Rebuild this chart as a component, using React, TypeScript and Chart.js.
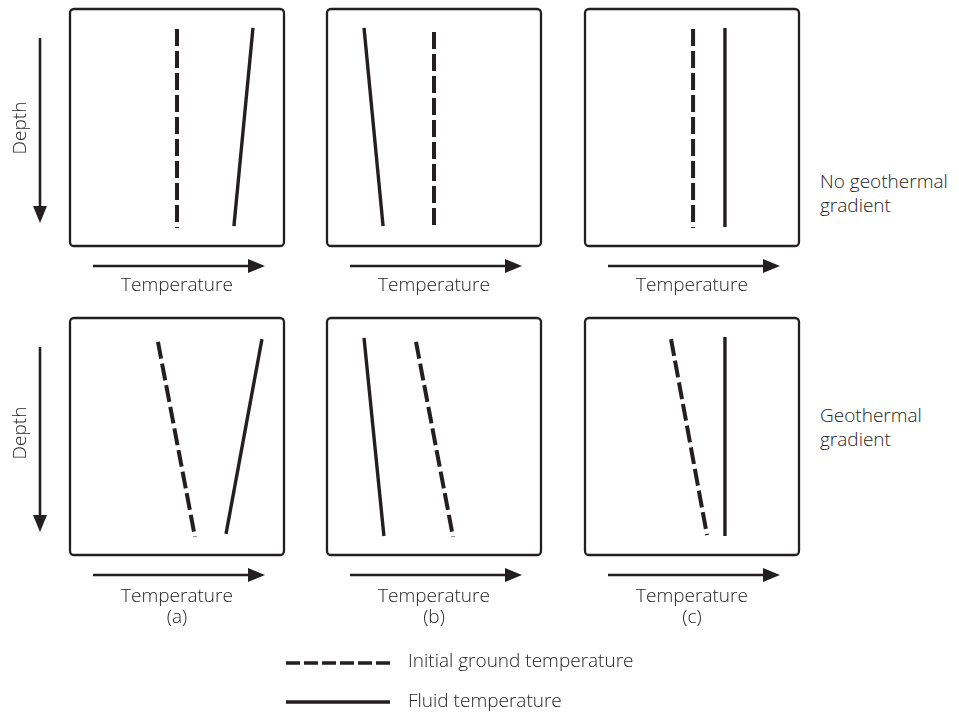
import React, { useEffect, useRef } from 'react';
import { Chart, registerables } from 'chart.js';

Chart.register(...registerables);

// ---------- data ----------
const columnLabels = ['(a)', '(b)', '(c)'];
const rowLabels = [
  ['No geothermal', 'gradient'],
  ['Geothermal', 'gradient'],
];
const xAxisLabel = 'Temperature';
const yAxisLabel = 'Depth';
const legendLabels = ['Initial ground temperature', 'Fluid temperature'];

// panel order: top row (a, b, c), bottom row (a, b, c)
// temperature as % of panel width, depth as % of panel height
const groundTempTop = [50.0, 50.0, 50.5, 41.1, 41.6, 40.2];
const groundTempBottom = [50.0, 50.0, 50.5, 58.4, 58.9, 57.0];
const groundDepthTop = [8.4, 9.7, 8.4, 10.1, 10.1, 8.9];
const groundDepthBottom = [92.4, 93.2, 92.4, 92.4, 92.4, 91.6];
const fluidTempTop = [85.5, 17.3, 65.4, 89.7, 17.3, 65.4];
const fluidTempBottom = [76.6, 26.2, 65.4, 72.9, 26.6, 65.4];
const fluidDepthTop = [8.0, 8.0, 8.0, 8.9, 8.4, 8.0];
const fluidDepthBottom = [91.6, 91.6, 92.0, 91.1, 92.0, 92.0];

// ---------- layout / style ----------
const INK = '#231f20';
const TEXT = '#262324';
const FONT = "'Open Sans', 'Noto Sans', sans-serif";
const COL_LEFT = [70, 327, 585];
const ROW_TOP = [9, 318];
const BOX_W = 214;
const BOX_H = 237;
const PAD = { left: 70, top: 9, right: 10, bottom: 40 };
const GROUND_DASH = [17, 5];
const LEGEND_DASH = [14, 4];

function drawArrow(ctx: CanvasRenderingContext2D, x1: number, y1: number, x2: number, y2: number) {
  const head = 17;
  const half = 7;
  const len = Math.hypot(x2 - x1, y2 - y1);
  const ux = (x2 - x1) / len;
  const uy = (y2 - y1) / len;
  const bx = x2 - ux * head;
  const by = y2 - uy * head;
  ctx.save();
  ctx.strokeStyle = INK;
  ctx.fillStyle = INK;
  ctx.lineWidth = 2.6;
  ctx.lineCap = 'butt';
  ctx.beginPath();
  ctx.moveTo(x1, y1);
  ctx.lineTo(bx + ux * 2, by + uy * 2);
  ctx.stroke();
  ctx.beginPath();
  ctx.moveTo(x2, y2);
  ctx.lineTo(bx - uy * half, by + ux * half);
  ctx.lineTo(bx + uy * half, by - ux * half);
  ctx.closePath();
  ctx.fill();
  ctx.restore();
}

const panelDecor = {
  id: 'panelDecor',
  afterDraw(chart: any, _args: any, opts: any) {
    const { ctx, chartArea: a } = chart;
    ctx.save();
    ctx.strokeStyle = INK;
    ctx.lineWidth = 2.3;
    ctx.beginPath();
    if ((ctx as any).roundRect) {
      (ctx as any).roundRect(a.left, a.top, a.right - a.left, a.bottom - a.top, 4);
    } else {
      ctx.rect(a.left, a.top, a.right - a.left, a.bottom - a.top);
    }
    ctx.stroke();
    ctx.restore();
    const ay = a.bottom + 20;
    drawArrow(ctx, a.left + 23, ay, a.left + 195, ay);
    if (opts && opts.depthArrow) {
      const ax = a.left - 30;
      drawArrow(ctx, ax, a.top + 29, ax, a.top + 214);
    }
  },
};

function Panel({ index }: { index: number }) {
  const ref = useRef<HTMLCanvasElement | null>(null);
  const row = Math.floor(index / 3);
  const col = index % 3;
  const width = BOX_W + PAD.left + PAD.right;
  const height = BOX_H + PAD.top + PAD.bottom;
  useEffect(() => {
    if (!ref.current) return;
    const chart = new Chart(ref.current, {
      type: 'line',
      data: {
        datasets: [
          {
            label: legendLabels[0],
            data: [
              { x: groundTempTop[index], y: groundDepthTop[index] },
              { x: groundTempBottom[index], y: groundDepthBottom[index] },
            ],
            borderColor: INK,
            borderWidth: 4,
            borderDash: GROUND_DASH,
            borderCapStyle: 'butt',
            pointRadius: 0,
            fill: false,
            tension: 0,
          },
          {
            label: legendLabels[1],
            data: [
              { x: fluidTempTop[index], y: fluidDepthTop[index] },
              { x: fluidTempBottom[index], y: fluidDepthBottom[index] },
            ],
            borderColor: INK,
            borderWidth: 3.4,
            borderCapStyle: 'butt',
            pointRadius: 0,
            fill: false,
            tension: 0,
          },
        ],
      },
      options: {
        responsive: false,
        animation: false,
        events: [],
        layout: { padding: PAD },
        plugins: {
          legend: { display: false },
          tooltip: { enabled: false },
          panelDecor: { depthArrow: col === 0 },
        } as any,
        scales: {
          x: { type: 'linear', min: 0, max: 100, display: false },
          y: { type: 'linear', min: 0, max: 100, reverse: true, display: false },
        },
      },
      plugins: [panelDecor],
    } as any);
    return () => chart.destroy();
  }, [index]);
  return (
    <canvas
      ref={ref}
      width={width}
      height={height}
      style={{
        position: 'absolute',
        left: COL_LEFT[col] - PAD.left,
        top: ROW_TOP[row] - PAD.top,
        width,
        height,
      }}
    />
  );
}

export default function App() {
  const tempTops = [274, 585];
  const depthCenters = [128, 433];
  const rowLabelTops = [169, 403];
  return (
    <div
      style={{
        position: 'absolute',
        left: 0,
        top: 0,
        width: 959,
        height: 713,
        background: '#fff',
        fontFamily: FONT,
        fontSize: 19,
        fontWeight: 300,
        color: TEXT,
        overflow: 'hidden',
      }}
    >
      {[0, 1, 2, 3, 4, 5].map((i) => (
        <Panel key={i} index={i} />
      ))}

      {[0, 1].map((r) =>
        [0, 1, 2].map((c) => (
          <div
            key={`t${r}${c}`}
            style={{
              position: 'absolute',
              left: COL_LEFT[c],
              width: BOX_W,
              top: tempTops[r],
              textAlign: 'center',
              lineHeight: '21px',
            }}
          >
            <div>{xAxisLabel}</div>
            {r === 1 && <div>{columnLabels[c]}</div>}
          </div>
        ))
      )}

      {depthCenters.map((cy, r) => (
        <div
          key={`d${r}`}
          style={{
            position: 'absolute',
            left: 19 - 40,
            top: cy - 12,
            width: 80,
            height: 24,
            lineHeight: '24px',
            textAlign: 'center',
            transform: 'rotate(-90deg)',
          }}
        >
          {yAxisLabel}
        </div>
      ))}

      {rowLabels.map((lines, r) => (
        <div
          key={`r${r}`}
          style={{
            position: 'absolute',
            left: 820,
            top: rowLabelTops[r],
            lineHeight: '24px',
            whiteSpace: 'nowrap',
          }}
        >
          {lines.map((l, k) => (
            <div key={k}>{l}</div>
          ))}
        </div>
      ))}

      <svg
        width={959}
        height={713}
        style={{ position: 'absolute', left: 0, top: 0, pointerEvents: 'none' }}
      >
        <line x1={286} x2={390} y1={663} y2={663} stroke={INK} strokeWidth={3.4} strokeDasharray={LEGEND_DASH.join(' ')} />
        <line x1={286} x2={390} y1={702} y2={702} stroke={INK} strokeWidth={3.4} />
      </svg>
      {legendLabels.map((l, k) => (
        <div
          key={`l${k}`}
          style={{
            position: 'absolute',
            left: 408,
            top: [648, 688][k],
            lineHeight: '24px',
            whiteSpace: 'nowrap',
          }}
        >
          {l}
        </div>
      ))}
    </div>
  );
}
